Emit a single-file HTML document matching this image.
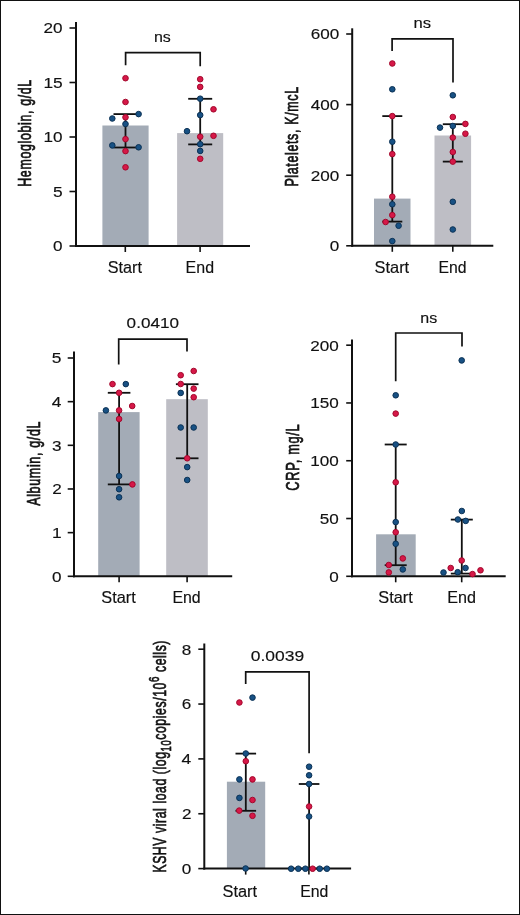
<!DOCTYPE html><html><head><meta charset="utf-8"><style>html,body{margin:0;padding:0;background:#fff;}svg{display:block;will-change:transform;}</style></head><body>
<svg width="520" height="915" viewBox="0 0 520 915">
<rect x="0" y="0" width="520" height="915" fill="#fff"/>
<rect x="102.4" y="125.5" width="46.2" height="120.5" fill="#a3abb6"/>
<rect x="177.1" y="133.1" width="46.1" height="112.9" fill="#bebec5"/>
<line x1="76" y1="22" x2="76" y2="247" stroke="#111" stroke-width="2" stroke-linecap="butt"/>
<line x1="75" y1="246" x2="250" y2="246" stroke="#111" stroke-width="2" stroke-linecap="butt"/>
<line x1="69.5" y1="246" x2="76" y2="246" stroke="#111" stroke-width="1.6" stroke-linecap="butt"/>
<text font-family="Liberation Sans, sans-serif" font-weight="normal" font-size="15" fill="#111" transform="translate(53.1,251.35) scale(1.1413,1.0190)" stroke="#111" stroke-width="0.15">0</text>
<line x1="69.5" y1="191.5" x2="76" y2="191.5" stroke="#111" stroke-width="1.6" stroke-linecap="butt"/>
<text font-family="Liberation Sans, sans-serif" font-weight="normal" font-size="16" fill="#111" transform="translate(53.06,196.85) scale(1.0855,0.9692)" stroke="#111" stroke-width="0.15">5</text>
<line x1="69.5" y1="137" x2="76" y2="137" stroke="#111" stroke-width="1.6" stroke-linecap="butt"/>
<text font-family="Liberation Sans, sans-serif" font-weight="normal" font-size="15" fill="#111" transform="translate(43.6,142.35) scale(1.1413,1.0190)" stroke="#111" stroke-width="0.15">10</text>
<line x1="69.5" y1="82.5" x2="76" y2="82.5" stroke="#111" stroke-width="1.6" stroke-linecap="butt"/>
<text font-family="Liberation Sans, sans-serif" font-weight="normal" font-size="16" fill="#111" transform="translate(43.42,87.85) scale(1.0855,0.9692)" stroke="#111" stroke-width="0.15">15</text>
<line x1="69.5" y1="28" x2="76" y2="28" stroke="#111" stroke-width="1.6" stroke-linecap="butt"/>
<text font-family="Liberation Sans, sans-serif" font-weight="normal" font-size="15" fill="#111" transform="translate(43.6,33.35) scale(1.1413,1.0190)" stroke="#111" stroke-width="0.15">20</text>
<line x1="125.3" y1="246" x2="125.3" y2="252" stroke="#111" stroke-width="1.6" stroke-linecap="butt"/>
<line x1="200.1" y1="246" x2="200.1" y2="252" stroke="#111" stroke-width="1.6" stroke-linecap="butt"/>
<line x1="125.5" y1="114.1" x2="125.5" y2="147.5" stroke="#111" stroke-width="1.8" stroke-linecap="butt"/>
<line x1="113.5" y1="114.1" x2="137.5" y2="114.1" stroke="#111" stroke-width="1.8" stroke-linecap="butt"/>
<line x1="113.5" y1="147.5" x2="137.5" y2="147.5" stroke="#111" stroke-width="1.8" stroke-linecap="butt"/>
<line x1="200.2" y1="98.8" x2="200.2" y2="144.4" stroke="#111" stroke-width="1.8" stroke-linecap="butt"/>
<line x1="188.2" y1="98.8" x2="212.2" y2="98.8" stroke="#111" stroke-width="1.8" stroke-linecap="butt"/>
<line x1="188.2" y1="144.4" x2="212.2" y2="144.4" stroke="#111" stroke-width="1.8" stroke-linecap="butt"/>
<circle cx="125.5" cy="78.2" r="2.8" fill="#d61848" stroke="#a3082c" stroke-width="1"/>
<circle cx="125.5" cy="102" r="2.8" fill="#d61848" stroke="#a3082c" stroke-width="1"/>
<circle cx="112.3" cy="118.5" r="2.8" fill="#185184" stroke="#0c3255" stroke-width="1"/>
<circle cx="138.6" cy="114.1" r="2.8" fill="#185184" stroke="#0c3255" stroke-width="1"/>
<circle cx="125.5" cy="117.3" r="2.8" fill="#d61848" stroke="#a3082c" stroke-width="1"/>
<circle cx="125.5" cy="124" r="2.8" fill="#185184" stroke="#0c3255" stroke-width="1"/>
<circle cx="125.5" cy="139.1" r="2.8" fill="#d61848" stroke="#a3082c" stroke-width="1"/>
<circle cx="112.3" cy="145.4" r="2.8" fill="#185184" stroke="#0c3255" stroke-width="1"/>
<circle cx="138.6" cy="147.3" r="2.8" fill="#185184" stroke="#0c3255" stroke-width="1"/>
<circle cx="125.5" cy="151.1" r="2.8" fill="#d61848" stroke="#a3082c" stroke-width="1"/>
<circle cx="125.5" cy="167.3" r="2.8" fill="#d61848" stroke="#a3082c" stroke-width="1"/>
<circle cx="200.2" cy="79.2" r="2.8" fill="#d61848" stroke="#a3082c" stroke-width="1"/>
<circle cx="200.2" cy="86.9" r="2.8" fill="#d61848" stroke="#a3082c" stroke-width="1"/>
<circle cx="200.2" cy="98.7" r="2.8" fill="#185184" stroke="#0c3255" stroke-width="1"/>
<circle cx="213.5" cy="109.3" r="2.8" fill="#d61848" stroke="#a3082c" stroke-width="1"/>
<circle cx="200.2" cy="115.1" r="2.8" fill="#185184" stroke="#0c3255" stroke-width="1"/>
<circle cx="187" cy="131.2" r="2.8" fill="#185184" stroke="#0c3255" stroke-width="1"/>
<circle cx="200.2" cy="136.7" r="2.8" fill="#d61848" stroke="#a3082c" stroke-width="1"/>
<circle cx="213.5" cy="135.8" r="2.8" fill="#d61848" stroke="#a3082c" stroke-width="1"/>
<circle cx="200.2" cy="144.2" r="2.8" fill="#185184" stroke="#0c3255" stroke-width="1"/>
<circle cx="200.2" cy="150.9" r="2.8" fill="#185184" stroke="#0c3255" stroke-width="1"/>
<circle cx="200.2" cy="158.8" r="2.8" fill="#d61848" stroke="#a3082c" stroke-width="1"/>
<polyline points="125.6,65.2 125.6,52.6 200.2,52.6 200.2,66.2" fill="none" stroke="#111" stroke-width="1.7"/>
<text font-family="Liberation Sans, sans-serif" font-weight="normal" font-size="15" fill="#111" transform="translate(153.96,42) scale(1.0681,0.9877)" stroke="#111" stroke-width="0.15">ns</text>
<text font-family="Liberation Sans, sans-serif" font-weight="normal" font-size="16" fill="#111" transform="translate(107.77,272.5) scale(1.0133,1.0089)" stroke="#111" stroke-width="0.15">Start</text>
<text font-family="Liberation Sans, sans-serif" font-weight="normal" font-size="16" fill="#111" transform="translate(185.62,272.5) scale(0.9977,1.0089)" stroke="#111" stroke-width="0.15">End</text>
<rect x="374" y="198.6" width="36.5" height="47.2" fill="#a3abb6"/>
<rect x="434.5" y="135.5" width="36.6" height="110.3" fill="#bebec5"/>
<line x1="352.2" y1="28.3" x2="352.2" y2="246.8" stroke="#111" stroke-width="2" stroke-linecap="butt"/>
<line x1="351.2" y1="245.8" x2="493.3" y2="245.8" stroke="#111" stroke-width="2" stroke-linecap="butt"/>
<line x1="346.2" y1="245.8" x2="352.2" y2="245.8" stroke="#111" stroke-width="1.6" stroke-linecap="butt"/>
<text font-family="Liberation Sans, sans-serif" font-weight="normal" font-size="15" fill="#111" transform="translate(329.7,251.15) scale(1.1413,1.0190)" stroke="#111" stroke-width="0.15">0</text>
<line x1="346.2" y1="175.2" x2="352.2" y2="175.2" stroke="#111" stroke-width="1.6" stroke-linecap="butt"/>
<text font-family="Liberation Sans, sans-serif" font-weight="normal" font-size="15" fill="#111" transform="translate(310.69,180.55) scale(1.1413,1.0190)" stroke="#111" stroke-width="0.15">200</text>
<line x1="346.2" y1="104.6" x2="352.2" y2="104.6" stroke="#111" stroke-width="1.6" stroke-linecap="butt"/>
<text font-family="Liberation Sans, sans-serif" font-weight="normal" font-size="15" fill="#111" transform="translate(310.69,109.95) scale(1.1413,1.0190)" stroke="#111" stroke-width="0.15">400</text>
<line x1="346.2" y1="34" x2="352.2" y2="34" stroke="#111" stroke-width="1.6" stroke-linecap="butt"/>
<text font-family="Liberation Sans, sans-serif" font-weight="normal" font-size="15" fill="#111" transform="translate(310.69,39.35) scale(1.1413,1.0190)" stroke="#111" stroke-width="0.15">600</text>
<line x1="392.3" y1="245.8" x2="392.3" y2="251.8" stroke="#111" stroke-width="1.6" stroke-linecap="butt"/>
<line x1="452.8" y1="245.8" x2="452.8" y2="251.8" stroke="#111" stroke-width="1.6" stroke-linecap="butt"/>
<line x1="392.3" y1="116.1" x2="392.3" y2="221.6" stroke="#111" stroke-width="1.8" stroke-linecap="butt"/>
<line x1="382.3" y1="116.1" x2="402.3" y2="116.1" stroke="#111" stroke-width="1.8" stroke-linecap="butt"/>
<line x1="382.3" y1="221.6" x2="402.3" y2="221.6" stroke="#111" stroke-width="1.8" stroke-linecap="butt"/>
<line x1="452.8" y1="124.2" x2="452.8" y2="161.6" stroke="#111" stroke-width="1.8" stroke-linecap="butt"/>
<line x1="442.8" y1="124.2" x2="462.8" y2="124.2" stroke="#111" stroke-width="1.8" stroke-linecap="butt"/>
<line x1="442.8" y1="161.6" x2="462.8" y2="161.6" stroke="#111" stroke-width="1.8" stroke-linecap="butt"/>
<circle cx="392.3" cy="63.5" r="2.8" fill="#d61848" stroke="#a3082c" stroke-width="1"/>
<circle cx="392.3" cy="89.3" r="2.8" fill="#185184" stroke="#0c3255" stroke-width="1"/>
<circle cx="392.3" cy="116.1" r="2.8" fill="#d61848" stroke="#a3082c" stroke-width="1"/>
<circle cx="392.3" cy="141.7" r="2.8" fill="#185184" stroke="#0c3255" stroke-width="1"/>
<circle cx="392.3" cy="154.1" r="2.8" fill="#d61848" stroke="#a3082c" stroke-width="1"/>
<circle cx="392.3" cy="196.7" r="2.8" fill="#d61848" stroke="#a3082c" stroke-width="1"/>
<circle cx="392.3" cy="204.3" r="2.8" fill="#185184" stroke="#0c3255" stroke-width="1"/>
<circle cx="392.3" cy="215.1" r="2.8" fill="#d61848" stroke="#a3082c" stroke-width="1"/>
<circle cx="385.6" cy="222" r="2.8" fill="#d61848" stroke="#a3082c" stroke-width="1"/>
<circle cx="398.6" cy="225.7" r="2.8" fill="#185184" stroke="#0c3255" stroke-width="1"/>
<circle cx="392.3" cy="241.1" r="2.8" fill="#185184" stroke="#0c3255" stroke-width="1"/>
<circle cx="452.8" cy="95.3" r="2.8" fill="#185184" stroke="#0c3255" stroke-width="1"/>
<circle cx="452.8" cy="117" r="2.8" fill="#d61848" stroke="#a3082c" stroke-width="1"/>
<circle cx="452.8" cy="126" r="2.8" fill="#185184" stroke="#0c3255" stroke-width="1"/>
<circle cx="440" cy="127.6" r="2.8" fill="#185184" stroke="#0c3255" stroke-width="1"/>
<circle cx="465.4" cy="123.9" r="2.8" fill="#d61848" stroke="#a3082c" stroke-width="1"/>
<circle cx="465.4" cy="133.7" r="2.8" fill="#d61848" stroke="#a3082c" stroke-width="1"/>
<circle cx="452.8" cy="137.6" r="2.8" fill="#d61848" stroke="#a3082c" stroke-width="1"/>
<circle cx="452.8" cy="152" r="2.8" fill="#d61848" stroke="#a3082c" stroke-width="1"/>
<circle cx="452.8" cy="161.6" r="2.8" fill="#d61848" stroke="#a3082c" stroke-width="1"/>
<circle cx="452.8" cy="201.8" r="2.8" fill="#185184" stroke="#0c3255" stroke-width="1"/>
<circle cx="452.8" cy="229.5" r="2.8" fill="#185184" stroke="#0c3255" stroke-width="1"/>
<polyline points="392.1,51.1 392.1,38.8 453,38.8 453,82.4" fill="none" stroke="#111" stroke-width="1.7"/>
<text font-family="Liberation Sans, sans-serif" font-weight="normal" font-size="16" fill="#111" transform="translate(413.52,28) scale(1.0406,0.9722)" stroke="#111" stroke-width="0.15">ns</text>
<text font-family="Liberation Sans, sans-serif" font-weight="normal" font-size="16" fill="#111" transform="translate(374.56,272.6) scale(1.0255,1.0179)" stroke="#111" stroke-width="0.15">Start</text>
<text font-family="Liberation Sans, sans-serif" font-weight="normal" font-size="16" fill="#111" transform="translate(438.54,272.6) scale(0.9862,1.0179)" stroke="#111" stroke-width="0.15">End</text>
<rect x="98.2" y="412.1" width="41.4" height="164.2" fill="#a3abb6"/>
<rect x="166.2" y="399.2" width="41.6" height="177.1" fill="#bebec5"/>
<line x1="74" y1="351.5" x2="74" y2="577.3" stroke="#111" stroke-width="2" stroke-linecap="butt"/>
<line x1="73" y1="576.3" x2="232.2" y2="576.3" stroke="#111" stroke-width="2" stroke-linecap="butt"/>
<line x1="67.7" y1="576.3" x2="74" y2="576.3" stroke="#111" stroke-width="1.6" stroke-linecap="butt"/>
<text font-family="Liberation Sans, sans-serif" font-weight="normal" font-size="15" fill="#111" transform="translate(51.9,581.65) scale(1.1413,1.0190)" stroke="#111" stroke-width="0.15">0</text>
<line x1="67.7" y1="532.64" x2="74" y2="532.64" stroke="#111" stroke-width="1.6" stroke-linecap="butt"/>
<text font-family="Liberation Sans, sans-serif" font-weight="normal" font-size="16" fill="#111" transform="translate(51.94,537.99) scale(1.0855,0.9692)" stroke="#111" stroke-width="0.15">1</text>
<line x1="67.7" y1="488.98" x2="74" y2="488.98" stroke="#111" stroke-width="1.6" stroke-linecap="butt"/>
<text font-family="Liberation Sans, sans-serif" font-weight="normal" font-size="15" fill="#111" transform="translate(52.15,494.33) scale(1.1413,1.0190)" stroke="#111" stroke-width="0.15">2</text>
<line x1="67.7" y1="445.32" x2="74" y2="445.32" stroke="#111" stroke-width="1.6" stroke-linecap="butt"/>
<text font-family="Liberation Sans, sans-serif" font-weight="normal" font-size="15" fill="#111" transform="translate(51.98,450.67) scale(1.1413,1.0190)" stroke="#111" stroke-width="0.15">3</text>
<line x1="67.7" y1="401.66" x2="74" y2="401.66" stroke="#111" stroke-width="1.6" stroke-linecap="butt"/>
<text font-family="Liberation Sans, sans-serif" font-weight="normal" font-size="16" fill="#111" transform="translate(51.68,407.01) scale(1.0855,0.9692)" stroke="#111" stroke-width="0.15">4</text>
<line x1="67.7" y1="358" x2="74" y2="358" stroke="#111" stroke-width="1.6" stroke-linecap="butt"/>
<text font-family="Liberation Sans, sans-serif" font-weight="normal" font-size="16" fill="#111" transform="translate(51.86,363.35) scale(1.0855,0.9692)" stroke="#111" stroke-width="0.15">5</text>
<line x1="119.1" y1="576.3" x2="119.1" y2="582.3" stroke="#111" stroke-width="1.6" stroke-linecap="butt"/>
<line x1="187.1" y1="576.3" x2="187.1" y2="582.3" stroke="#111" stroke-width="1.6" stroke-linecap="butt"/>
<line x1="119.1" y1="392.8" x2="119.1" y2="484.4" stroke="#111" stroke-width="1.8" stroke-linecap="butt"/>
<line x1="107.8" y1="392.8" x2="130.4" y2="392.8" stroke="#111" stroke-width="1.8" stroke-linecap="butt"/>
<line x1="107.8" y1="484.4" x2="130.4" y2="484.4" stroke="#111" stroke-width="1.8" stroke-linecap="butt"/>
<line x1="187.2" y1="384.2" x2="187.2" y2="458.3" stroke="#111" stroke-width="1.8" stroke-linecap="butt"/>
<line x1="175.9" y1="384.2" x2="198.5" y2="384.2" stroke="#111" stroke-width="1.8" stroke-linecap="butt"/>
<line x1="175.9" y1="458.3" x2="198.5" y2="458.3" stroke="#111" stroke-width="1.8" stroke-linecap="butt"/>
<circle cx="112.5" cy="384.1" r="2.8" fill="#d61848" stroke="#a3082c" stroke-width="1"/>
<circle cx="125.8" cy="384.1" r="2.8" fill="#185184" stroke="#0c3255" stroke-width="1"/>
<circle cx="119.1" cy="392.8" r="2.8" fill="#d61848" stroke="#a3082c" stroke-width="1"/>
<circle cx="132.2" cy="406" r="2.8" fill="#d61848" stroke="#a3082c" stroke-width="1"/>
<circle cx="105.9" cy="410.4" r="2.8" fill="#185184" stroke="#0c3255" stroke-width="1"/>
<circle cx="119.1" cy="410.4" r="2.8" fill="#d61848" stroke="#a3082c" stroke-width="1"/>
<circle cx="119.1" cy="419" r="2.8" fill="#d61848" stroke="#a3082c" stroke-width="1"/>
<circle cx="119.1" cy="476" r="2.8" fill="#185184" stroke="#0c3255" stroke-width="1"/>
<circle cx="132.4" cy="484.4" r="2.8" fill="#d61848" stroke="#a3082c" stroke-width="1"/>
<circle cx="119.1" cy="489.2" r="2.8" fill="#185184" stroke="#0c3255" stroke-width="1"/>
<circle cx="119.1" cy="497.3" r="2.8" fill="#185184" stroke="#0c3255" stroke-width="1"/>
<circle cx="193.7" cy="371" r="2.8" fill="#d61848" stroke="#a3082c" stroke-width="1"/>
<circle cx="180.7" cy="375.2" r="2.8" fill="#d61848" stroke="#a3082c" stroke-width="1"/>
<circle cx="180.7" cy="384" r="2.8" fill="#d61848" stroke="#a3082c" stroke-width="1"/>
<circle cx="193.7" cy="388.6" r="2.8" fill="#d61848" stroke="#a3082c" stroke-width="1"/>
<circle cx="180.7" cy="392.9" r="2.8" fill="#185184" stroke="#0c3255" stroke-width="1"/>
<circle cx="193.7" cy="397.2" r="2.8" fill="#d61848" stroke="#a3082c" stroke-width="1"/>
<circle cx="180.7" cy="427.5" r="2.8" fill="#185184" stroke="#0c3255" stroke-width="1"/>
<circle cx="193.7" cy="427.5" r="2.8" fill="#185184" stroke="#0c3255" stroke-width="1"/>
<circle cx="187.2" cy="458.3" r="2.8" fill="#d61848" stroke="#a3082c" stroke-width="1"/>
<circle cx="187.2" cy="467.1" r="2.8" fill="#185184" stroke="#0c3255" stroke-width="1"/>
<circle cx="187.2" cy="480" r="2.8" fill="#185184" stroke="#0c3255" stroke-width="1"/>
<polyline points="118.7,364.4 118.7,339.1 187,339.1 187,351.4" fill="none" stroke="#111" stroke-width="1.7"/>
<text font-family="Liberation Sans, sans-serif" font-weight="normal" font-size="15" fill="#111" transform="translate(126.62,328.4) scale(1.1413,0.9905)" stroke="#111" stroke-width="0.15">0.0410</text>
<text font-family="Liberation Sans, sans-serif" font-weight="normal" font-size="16" fill="#111" transform="translate(101.27,603) scale(1.0194,1.0179)" stroke="#111" stroke-width="0.15">Start</text>
<text font-family="Liberation Sans, sans-serif" font-weight="normal" font-size="16" fill="#111" transform="translate(172.43,603) scale(0.9939,1.0179)" stroke="#111" stroke-width="0.15">End</text>
<rect x="376.1" y="534.3" width="39.6" height="42" fill="#a3abb6"/>
<line x1="352" y1="339.5" x2="352" y2="577.3" stroke="#111" stroke-width="2" stroke-linecap="butt"/>
<line x1="351" y1="576.3" x2="505.7" y2="576.3" stroke="#111" stroke-width="2" stroke-linecap="butt"/>
<line x1="346.2" y1="576.3" x2="352" y2="576.3" stroke="#111" stroke-width="1.6" stroke-linecap="butt"/>
<text font-family="Liberation Sans, sans-serif" font-weight="normal" font-size="15" fill="#111" transform="translate(329.3,581.65) scale(1.1413,1.0190)" stroke="#111" stroke-width="0.15">0</text>
<line x1="346.2" y1="518.52" x2="352" y2="518.52" stroke="#111" stroke-width="1.6" stroke-linecap="butt"/>
<text font-family="Liberation Sans, sans-serif" font-weight="normal" font-size="15" fill="#111" transform="translate(319.8,523.87) scale(1.1413,1.0190)" stroke="#111" stroke-width="0.15">50</text>
<line x1="346.2" y1="460.74" x2="352" y2="460.74" stroke="#111" stroke-width="1.6" stroke-linecap="butt"/>
<text font-family="Liberation Sans, sans-serif" font-weight="normal" font-size="15" fill="#111" transform="translate(310.29,466.09) scale(1.1413,1.0190)" stroke="#111" stroke-width="0.15">100</text>
<line x1="346.2" y1="402.96" x2="352" y2="402.96" stroke="#111" stroke-width="1.6" stroke-linecap="butt"/>
<text font-family="Liberation Sans, sans-serif" font-weight="normal" font-size="15" fill="#111" transform="translate(310.29,408.31) scale(1.1413,1.0190)" stroke="#111" stroke-width="0.15">150</text>
<line x1="346.2" y1="345.18" x2="352" y2="345.18" stroke="#111" stroke-width="1.6" stroke-linecap="butt"/>
<text font-family="Liberation Sans, sans-serif" font-weight="normal" font-size="15" fill="#111" transform="translate(310.29,350.53) scale(1.1413,1.0190)" stroke="#111" stroke-width="0.15">200</text>
<line x1="395.7" y1="576.3" x2="395.7" y2="582.3" stroke="#111" stroke-width="1.6" stroke-linecap="butt"/>
<line x1="461.7" y1="576.3" x2="461.7" y2="582.3" stroke="#111" stroke-width="1.6" stroke-linecap="butt"/>
<line x1="395.7" y1="444.5" x2="395.7" y2="565.2" stroke="#111" stroke-width="1.8" stroke-linecap="butt"/>
<line x1="384.7" y1="444.5" x2="406.7" y2="444.5" stroke="#111" stroke-width="1.8" stroke-linecap="butt"/>
<line x1="384.7" y1="565.2" x2="406.7" y2="565.2" stroke="#111" stroke-width="1.8" stroke-linecap="butt"/>
<line x1="461.8" y1="519.6" x2="461.8" y2="573.6" stroke="#111" stroke-width="1.8" stroke-linecap="butt"/>
<line x1="450.8" y1="519.6" x2="472.8" y2="519.6" stroke="#111" stroke-width="1.8" stroke-linecap="butt"/>
<line x1="450.8" y1="573.6" x2="472.8" y2="573.6" stroke="#111" stroke-width="1.8" stroke-linecap="butt"/>
<circle cx="395.7" cy="395.3" r="2.8" fill="#185184" stroke="#0c3255" stroke-width="1"/>
<circle cx="395.7" cy="413.6" r="2.8" fill="#d61848" stroke="#a3082c" stroke-width="1"/>
<circle cx="395.7" cy="444.5" r="2.8" fill="#185184" stroke="#0c3255" stroke-width="1"/>
<circle cx="395.7" cy="482.3" r="2.8" fill="#d61848" stroke="#a3082c" stroke-width="1"/>
<circle cx="395.7" cy="522.1" r="2.8" fill="#185184" stroke="#0c3255" stroke-width="1"/>
<circle cx="395.7" cy="532.2" r="2.8" fill="#d61848" stroke="#a3082c" stroke-width="1"/>
<circle cx="395.7" cy="543.8" r="2.8" fill="#185184" stroke="#0c3255" stroke-width="1"/>
<circle cx="402.8" cy="558.4" r="2.8" fill="#d61848" stroke="#a3082c" stroke-width="1"/>
<circle cx="388.8" cy="565" r="2.8" fill="#d61848" stroke="#a3082c" stroke-width="1"/>
<circle cx="402.8" cy="569.4" r="2.8" fill="#185184" stroke="#0c3255" stroke-width="1"/>
<circle cx="388.8" cy="572.4" r="2.8" fill="#d61848" stroke="#a3082c" stroke-width="1"/>
<circle cx="461.7" cy="360.4" r="2.8" fill="#185184" stroke="#0c3255" stroke-width="1"/>
<circle cx="461.8" cy="511" r="2.8" fill="#185184" stroke="#0c3255" stroke-width="1"/>
<circle cx="457.9" cy="519.5" r="2.8" fill="#185184" stroke="#0c3255" stroke-width="1"/>
<circle cx="465.7" cy="520.9" r="2.8" fill="#185184" stroke="#0c3255" stroke-width="1"/>
<circle cx="461.7" cy="560.5" r="2.8" fill="#d61848" stroke="#a3082c" stroke-width="1"/>
<circle cx="450.7" cy="568" r="2.8" fill="#d61848" stroke="#a3082c" stroke-width="1"/>
<circle cx="465.5" cy="568" r="2.8" fill="#185184" stroke="#0c3255" stroke-width="1"/>
<circle cx="443.5" cy="572.5" r="2.8" fill="#185184" stroke="#0c3255" stroke-width="1"/>
<circle cx="457.7" cy="572.2" r="2.8" fill="#185184" stroke="#0c3255" stroke-width="1"/>
<circle cx="472.5" cy="574.1" r="2.8" fill="#d61848" stroke="#a3082c" stroke-width="1"/>
<circle cx="480.5" cy="570.3" r="2.8" fill="#d61848" stroke="#a3082c" stroke-width="1"/>
<polyline points="395.7,381.2 395.7,333 462,333 462,346.5" fill="none" stroke="#111" stroke-width="1.7"/>
<text font-family="Liberation Sans, sans-serif" font-weight="normal" font-size="15" fill="#111" transform="translate(420.26,322.7) scale(1.0681,1.0000)" stroke="#111" stroke-width="0.15">ns</text>
<text font-family="Liberation Sans, sans-serif" font-weight="normal" font-size="16" fill="#111" transform="translate(378.27,603) scale(1.0194,1.0179)" stroke="#111" stroke-width="0.15">Start</text>
<text font-family="Liberation Sans, sans-serif" font-weight="normal" font-size="16" fill="#111" transform="translate(447.31,603) scale(1.0092,1.0179)" stroke="#111" stroke-width="0.15">End</text>
<rect x="226.9" y="781.7" width="38.3" height="86.9" fill="#a3abb6"/>
<line x1="204.3" y1="643.5" x2="204.3" y2="869.6" stroke="#111" stroke-width="2" stroke-linecap="butt"/>
<line x1="203.3" y1="868.6" x2="351.1" y2="868.6" stroke="#111" stroke-width="2" stroke-linecap="butt"/>
<line x1="198.3" y1="868.6" x2="204.3" y2="868.6" stroke="#111" stroke-width="1.6" stroke-linecap="butt"/>
<text font-family="Liberation Sans, sans-serif" font-weight="normal" font-size="15" fill="#111" transform="translate(181.7,873.95) scale(1.1413,1.0190)" stroke="#111" stroke-width="0.15">0</text>
<line x1="198.3" y1="813.75" x2="204.3" y2="813.75" stroke="#111" stroke-width="1.6" stroke-linecap="butt"/>
<text font-family="Liberation Sans, sans-serif" font-weight="normal" font-size="15" fill="#111" transform="translate(181.95,819.1) scale(1.1413,1.0190)" stroke="#111" stroke-width="0.15">2</text>
<line x1="198.3" y1="758.9" x2="204.3" y2="758.9" stroke="#111" stroke-width="1.6" stroke-linecap="butt"/>
<text font-family="Liberation Sans, sans-serif" font-weight="normal" font-size="16" fill="#111" transform="translate(181.48,764.25) scale(1.0855,0.9692)" stroke="#111" stroke-width="0.15">4</text>
<line x1="198.3" y1="704.05" x2="204.3" y2="704.05" stroke="#111" stroke-width="1.6" stroke-linecap="butt"/>
<text font-family="Liberation Sans, sans-serif" font-weight="normal" font-size="15" fill="#111" transform="translate(181.78,709.4) scale(1.1413,1.0190)" stroke="#111" stroke-width="0.15">6</text>
<line x1="198.3" y1="649.2" x2="204.3" y2="649.2" stroke="#111" stroke-width="1.6" stroke-linecap="butt"/>
<text font-family="Liberation Sans, sans-serif" font-weight="normal" font-size="15" fill="#111" transform="translate(181.78,654.55) scale(1.1413,1.0190)" stroke="#111" stroke-width="0.15">8</text>
<line x1="245.7" y1="868.6" x2="245.7" y2="874.6" stroke="#111" stroke-width="1.6" stroke-linecap="butt"/>
<line x1="308.9" y1="868.6" x2="308.9" y2="874.6" stroke="#111" stroke-width="1.6" stroke-linecap="butt"/>
<line x1="245.8" y1="753.6" x2="245.8" y2="810.8" stroke="#111" stroke-width="1.8" stroke-linecap="butt"/>
<line x1="235.5" y1="753.6" x2="256.1" y2="753.6" stroke="#111" stroke-width="1.8" stroke-linecap="butt"/>
<line x1="235.5" y1="810.8" x2="256.1" y2="810.8" stroke="#111" stroke-width="1.8" stroke-linecap="butt"/>
<line x1="309.1" y1="784" x2="309.1" y2="868.6" stroke="#111" stroke-width="1.8" stroke-linecap="butt"/>
<line x1="298.8" y1="784" x2="319.4" y2="784" stroke="#111" stroke-width="1.8" stroke-linecap="butt"/>
<line x1="298.8" y1="868.6" x2="319.4" y2="868.6" stroke="#111" stroke-width="1.8" stroke-linecap="butt"/>
<circle cx="252.5" cy="697.6" r="2.8" fill="#185184" stroke="#0c3255" stroke-width="1"/>
<circle cx="239.4" cy="702.5" r="2.8" fill="#d61848" stroke="#a3082c" stroke-width="1"/>
<circle cx="245.8" cy="753.5" r="2.8" fill="#185184" stroke="#0c3255" stroke-width="1"/>
<circle cx="245.8" cy="761.2" r="2.8" fill="#d61848" stroke="#a3082c" stroke-width="1"/>
<circle cx="239.4" cy="779.4" r="2.8" fill="#185184" stroke="#0c3255" stroke-width="1"/>
<circle cx="252.5" cy="779.4" r="2.8" fill="#d61848" stroke="#a3082c" stroke-width="1"/>
<circle cx="239.4" cy="797.9" r="2.8" fill="#185184" stroke="#0c3255" stroke-width="1"/>
<circle cx="252.5" cy="800" r="2.8" fill="#d61848" stroke="#a3082c" stroke-width="1"/>
<circle cx="239.2" cy="810.6" r="2.8" fill="#d61848" stroke="#a3082c" stroke-width="1"/>
<circle cx="252.5" cy="815.8" r="2.8" fill="#d61848" stroke="#a3082c" stroke-width="1"/>
<circle cx="245.6" cy="868.5" r="2.8" fill="#185184" stroke="#0c3255" stroke-width="1"/>
<circle cx="309.1" cy="766.7" r="2.8" fill="#185184" stroke="#0c3255" stroke-width="1"/>
<circle cx="309.1" cy="775.3" r="2.8" fill="#185184" stroke="#0c3255" stroke-width="1"/>
<circle cx="309.1" cy="784" r="2.8" fill="#185184" stroke="#0c3255" stroke-width="1"/>
<circle cx="309.1" cy="806.5" r="2.8" fill="#d61848" stroke="#a3082c" stroke-width="1"/>
<circle cx="309.1" cy="816.5" r="2.8" fill="#185184" stroke="#0c3255" stroke-width="1"/>
<circle cx="291.1" cy="868.7" r="2.8" fill="#185184" stroke="#0c3255" stroke-width="1"/>
<circle cx="298.3" cy="868.7" r="2.8" fill="#185184" stroke="#0c3255" stroke-width="1"/>
<circle cx="305.4" cy="868.7" r="2.8" fill="#185184" stroke="#0c3255" stroke-width="1"/>
<circle cx="312.6" cy="868.7" r="2.8" fill="#d61848" stroke="#a3082c" stroke-width="1"/>
<circle cx="319.7" cy="868.7" r="2.8" fill="#185184" stroke="#0c3255" stroke-width="1"/>
<circle cx="326.9" cy="868.7" r="2.8" fill="#185184" stroke="#0c3255" stroke-width="1"/>
<polyline points="245.7,684.1 245.7,671.8 309.1,671.8 309.1,753.2" fill="none" stroke="#111" stroke-width="1.7"/>
<text font-family="Liberation Sans, sans-serif" font-weight="normal" font-size="15" fill="#111" transform="translate(250.7,661.1) scale(1.1653,0.9905)" stroke="#111" stroke-width="0.15">0.0039</text>
<text font-family="Liberation Sans, sans-serif" font-weight="normal" font-size="16" fill="#111" transform="translate(222.46,896.6) scale(1.0255,0.9821)" stroke="#111" stroke-width="0.15">Start</text>
<text font-family="Liberation Sans, sans-serif" font-weight="normal" font-size="16" fill="#111" transform="translate(300.13,896.6) scale(0.9901,0.9821)" stroke="#111" stroke-width="0.15">End</text>
<text font-family="Liberation Sans, sans-serif" font-weight="normal" font-size="19" letter-spacing="0.950" fill="#111" transform="translate(31.1,186.8) rotate(-90) scale(0.6570,1.0075)" stroke="#111" stroke-width="0.7">Hemoglobin, g/dL</text>
<text font-family="Liberation Sans, sans-serif" font-weight="normal" font-size="19" letter-spacing="0.950" fill="#111" transform="translate(298.4,186.6) rotate(-90) scale(0.6585,1.0150)" stroke="#111" stroke-width="0.7">Platelets, K/mcL</text>
<text font-family="Liberation Sans, sans-serif" font-weight="normal" font-size="19" letter-spacing="0.950" fill="#111" transform="translate(40,505.8) rotate(-90) scale(0.6613,1.0000)" stroke="#111" stroke-width="0.7">Albumin, g/dL</text>
<text font-family="Liberation Sans, sans-serif" font-weight="normal" font-size="19" letter-spacing="0.950" fill="#111" transform="translate(298.9,490.64) rotate(-90) scale(0.6776,1.0150)" stroke="#111" stroke-width="0.7">CRP, mg/L</text>
<text font-family="Liberation Sans, sans-serif" font-weight="normal" font-size="18.5" letter-spacing="0.925" fill="#111" transform="translate(165.6,872.6) rotate(-90) scale(0.659,1.0)" stroke="#111" stroke-width="0.7">KSHV viral load (log<tspan font-size="14.25" dy="5">10</tspan><tspan dy="-5">copies/10</tspan><tspan font-size="14.80" dy="-6.4">6</tspan><tspan dy="6.4"> cells)</tspan></text>
<rect x="0.5" y="0.5" width="519" height="914" fill="none" stroke="#111" stroke-width="1"/>
</svg></body></html>
